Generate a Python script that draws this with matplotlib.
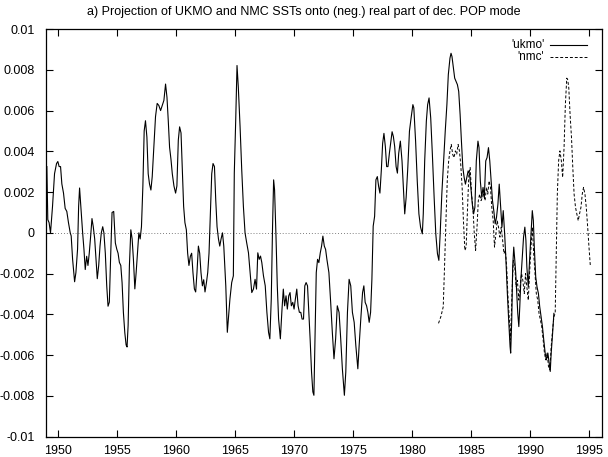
import numpy as np
import matplotlib
matplotlib.use("Agg")
import matplotlib.pyplot as plt
from matplotlib.ticker import FuncFormatter

plt.rcParams['font.family'] = ['Liberation Sans', 'DejaVu Sans']

# ---- data (values in units of 0.001) ----
ukmo_year = [
    1949.07, 1949.15, 1949.26, 1949.38, 1949.55, 1949.72, 1949.89, 1950.0, 1950.11, 1950.23,
    1950.34, 1950.48, 1950.62, 1950.76, 1950.9, 1951.05, 1951.13, 1951.25, 1951.42, 1951.53,
    1951.67, 1951.76, 1951.84, 1951.98, 1952.1, 1952.21, 1952.32, 1952.44, 1952.55, 1952.66,
    1952.78, 1952.89, 1953.0, 1953.12, 1953.23, 1953.34, 1953.46, 1953.57, 1953.68, 1953.8,
    1953.9, 1954.02, 1954.14, 1954.25, 1954.36, 1954.48, 1954.59, 1954.73, 1954.87, 1954.99,
    1955.1, 1955.21, 1955.33, 1955.44, 1955.55, 1955.67, 1955.78, 1955.86, 1955.95, 1956.06,
    1956.18, 1956.29, 1956.4, 1956.52, 1956.63, 1956.74, 1956.86, 1956.97, 1957.08, 1957.2,
    1957.31, 1957.42, 1957.54, 1957.65, 1957.76, 1957.88, 1957.99, 1958.1, 1958.27, 1958.41,
    1958.55, 1958.7, 1958.84, 1958.98, 1959.12, 1959.24, 1959.35, 1959.46, 1959.58, 1959.69,
    1959.83, 1959.97, 1960.08, 1960.2, 1960.31, 1960.43, 1960.54, 1960.65, 1960.76, 1960.88,
    1960.99, 1961.1, 1961.22, 1961.33, 1961.44, 1961.56, 1961.67, 1961.78, 1961.9, 1962.01,
    1962.12, 1962.24, 1962.35, 1962.46, 1962.58, 1962.69, 1962.8, 1962.92, 1963.03, 1963.14,
    1963.26, 1963.37, 1963.48, 1963.6, 1963.71, 1963.82, 1963.94, 1964.05, 1964.22, 1964.35,
    1964.57, 1964.72, 1964.86, 1964.94, 1965.06, 1965.17, 1965.28, 1965.43, 1965.57, 1965.71,
    1965.85, 1965.99, 1966.14, 1966.28, 1966.42, 1966.56, 1966.7, 1966.82, 1966.93, 1967.05,
    1967.16, 1967.27, 1967.41, 1967.56, 1967.7, 1967.84, 1967.95, 1968.07, 1968.18, 1968.27,
    1968.35, 1968.47, 1968.58, 1968.69, 1968.84, 1968.98, 1969.09, 1969.2, 1969.32, 1969.43,
    1969.55, 1969.66, 1969.77, 1969.89, 1970.0, 1970.11, 1970.23, 1970.34, 1970.45, 1970.57,
    1970.68, 1970.8, 1970.91, 1971.02, 1971.14, 1971.25, 1971.36, 1971.48, 1971.59, 1971.68,
    1971.76, 1971.88, 1971.99, 1972.1, 1972.22, 1972.33, 1972.44, 1972.56, 1972.67, 1972.78,
    1972.95, 1973.1, 1973.24, 1973.38, 1973.52, 1973.66, 1973.81, 1973.95, 1974.09, 1974.26,
    1974.38, 1974.52, 1974.66, 1974.8, 1974.94, 1975.09, 1975.23, 1975.4, 1975.51, 1975.65,
    1975.8, 1975.91, 1976.02, 1976.14, 1976.25, 1976.36, 1976.48, 1976.59, 1976.7, 1976.82,
    1976.93, 1977.05, 1977.16, 1977.27, 1977.39, 1977.5, 1977.61, 1977.73, 1977.84, 1977.95,
    1978.07, 1978.18, 1978.3, 1978.41, 1978.52, 1978.64, 1978.75, 1978.86, 1979.0, 1979.14,
    1979.29, 1979.37, 1979.49, 1979.63, 1979.77, 1979.91, 1980.06, 1980.14, 1980.29, 1980.43,
    1980.57, 1980.71, 1980.86, 1980.94, 1981.06, 1981.2, 1981.31, 1981.43, 1981.57, 1981.71,
    1981.86, 1982.0, 1982.14, 1982.26, 1982.37, 1982.51, 1982.66, 1982.8, 1982.94, 1983.06,
    1983.2, 1983.29, 1983.37, 1983.49, 1983.6, 1983.71, 1983.83, 1983.94, 1984.06, 1984.17,
    1984.29, 1984.4, 1984.51, 1984.63, 1984.74, 1984.86, 1984.97, 1985.09, 1985.2, 1985.31,
    1985.43, 1985.57, 1985.66, 1985.77, 1985.89, 1986.0, 1986.11, 1986.23, 1986.34, 1986.46,
    1986.57, 1986.69, 1986.8, 1986.91, 1987.03, 1987.14, 1987.26, 1987.37, 1987.49, 1987.6,
    1987.71, 1987.83, 1987.94, 1988.06, 1988.17, 1988.29, 1988.34, 1988.43, 1988.51, 1988.6,
    1988.69, 1988.77, 1988.86, 1988.94, 1989.03, 1989.11, 1989.2, 1989.31, 1989.43, 1989.54,
    1989.63, 1989.71, 1989.83, 1989.94, 1990.06, 1990.17, 1990.26, 1990.34, 1990.46, 1990.57,
    1990.69, 1990.8, 1990.91, 1991.03, 1991.14, 1991.26, 1991.37, 1991.49, 1991.6, 1991.69,
    1991.77, 1991.89, 1992.0,
]
ukmo_milli = [
    3.25, 0.65, 0.5, 0.0, 1.3, 2.9, 3.4, 3.5, 3.25, 3.25,
    2.4, 1.95, 1.2, 1.05, 0.5, 0.0, -0.15, -1.3, -2.4, -1.95,
    -0.8, 1.3, 2.2, 0.98, 0.0, -0.8, -1.8, -1.15, -1.6, -1.0,
    -0.15, 0.7, 0.3, -0.3, -1.3, -2.25, -1.6, -0.65, 0.0, 0.3,
    0.0, -1.0, -2.6, -3.6, -3.4, -1.0, 1.0, 1.05, -0.5, -0.8,
    -1.0, -1.45, -1.6, -2.45, -3.9, -4.9, -5.5, -5.6, -4.55, -1.6,
    0.15, -0.3, -1.3, -2.75, -1.95, -1.0, 0.0, -0.3, 0.3, 2.3,
    5.0, 5.5, 4.7, 2.9, 2.4, 2.1, 2.75, 3.9, 5.7, 6.35,
    6.25, 6.0, 6.25, 6.5, 7.3, 6.65, 5.5, 4.2, 3.6, 2.9,
    2.3, 1.95, 2.3, 4.55, 5.2, 4.9, 3.1, 1.3, 0.5, 0.15,
    -1.0, -1.6, -1.15, -1.0, -1.95, -2.75, -2.9, -1.95, -0.65, -1.0,
    -1.95, -2.6, -2.3, -2.9, -2.45, -1.95, -1.0, 1.0, 2.9, 3.4,
    3.25, 1.6, 0.3, -0.3, -0.65, -0.3, 0.0, -0.65, -2.6, -4.88,
    -3.25, -2.44, -2.11, 2.93, 5.53, 8.21, 7.15, 5.2, 3.09, 1.3,
    0.0, -0.49, -0.98, -1.95, -2.93, -2.76, -2.28, -2.76, -0.98, -1.3,
    -1.14, -1.46, -2.11, -2.6, -3.9, -4.88, -5.2, -3.25, 0.33, 2.6,
    2.11, -0.16, -2.6, -4.23, -5.2, -3.74, -2.76, -3.58, -3.09, -3.74,
    -3.09, -2.93, -3.58, -3.41, -3.74, -3.25, -2.76, -3.58, -3.9, -3.9,
    -4.23, -4.23, -2.6, -2.44, -2.6, -3.9, -5.2, -6.83, -7.8, -7.97,
    -5.53, -1.95, -1.3, -1.46, -0.98, -0.65, -0.16, -0.65, -0.81, -1.3,
    -1.95, -3.41, -4.88, -6.18, -5.2, -3.58, -3.9, -5.2, -6.67, -7.97,
    -6.83, -3.9, -2.28, -2.6, -3.9, -4.39, -5.53, -6.67, -5.53, -4.23,
    -2.93, -2.6, -3.41, -3.58, -3.9, -4.39, -3.9, -2.28, 0.33, 0.81,
    2.6, 2.76, 2.28, 1.95, 3.09, 4.39, 4.88, 4.23, 3.25, 3.25,
    3.9, 4.39, 4.96, 4.72, 4.23, 3.25, 2.93, 3.9, 4.5, 3.53,
    1.9, 0.93, 1.74, 3.2, 4.99, 5.64, 6.29, 6.13, 4.5, 2.55,
    0.93, 0.28, -0.05, 0.93, 3.53, 5.48, 6.29, 6.62, 5.64, 3.85,
    1.74, -0.05, -1.02, -1.35, -0.05, 1.9, 3.53, 4.99, 6.29, 7.76,
    8.57, 8.81, 8.65, 8.08, 7.59, 7.43, 7.27, 6.94, 5.8, 4.5,
    3.2, 2.72, 2.39, 2.72, 3.04, 2.88, 2.23, 1.41, 0.93, 1.25,
    3.53, 4.5, 4.18, 2.55, 1.74, 2.23, 1.74, 3.53, 3.69, 4.18,
    3.53, 2.55, 1.58, 1.09, 0.44, 0.76, 1.41, 2.39, 1.25, 0.28,
    1.09, -0.05, -1.35, -2.98, -4.28, -5.58, -5.9, -4.28, -1.67, -0.7,
    -1.35, -2.0, -2.98, -3.95, -4.6, -3.63, -2.33, -1.35, -0.21, 0.28,
    -0.37, -1.67, -2.65, -1.35, -0.05, 1.09, 0.6, -0.7, -2.16, -2.65,
    -2.98, -3.63, -4.11, -4.6, -5.25, -5.9, -6.23, -5.9, -6.39, -6.8,
    -5.9, -4.93, -3.95,
]

nmc_year = [
    1982.23, 1982.43, 1982.63, 1982.74, 1982.86, 1982.97, 1983.09, 1983.2, 1983.31, 1983.43,
    1983.54, 1983.66, 1983.77, 1983.89, 1984.0, 1984.11, 1984.23, 1984.34, 1984.46, 1984.57,
    1984.69, 1984.8, 1984.91, 1985.03, 1985.14, 1985.26, 1985.37, 1985.49, 1985.6, 1985.71,
    1985.83, 1985.94, 1986.06, 1986.17, 1986.29, 1986.4, 1986.51, 1986.63, 1986.74, 1986.86,
    1986.97, 1987.09, 1987.2, 1987.31, 1987.43, 1987.54, 1987.66, 1987.77, 1987.89, 1988.0,
    1988.11, 1988.23, 1988.31, 1988.4, 1988.49, 1988.57, 1988.69, 1988.8, 1988.91, 1989.03,
    1989.14, 1989.26, 1989.37, 1989.49, 1989.6, 1989.71, 1989.83, 1989.94, 1990.06, 1990.17,
    1990.29, 1990.4, 1990.51, 1990.63, 1990.74, 1990.86, 1990.97, 1991.09, 1991.2, 1991.31,
    1991.43, 1991.54, 1991.66, 1991.77, 1991.89, 1992.0, 1992.11, 1992.2, 1992.29, 1992.4,
    1992.51, 1992.63, 1992.74, 1992.86, 1992.97, 1993.09, 1993.17, 1993.26, 1993.37, 1993.49,
    1993.6, 1993.71, 1993.83, 1993.94, 1994.06, 1994.17, 1994.29, 1994.4, 1994.51, 1994.63,
    1994.74, 1994.86, 1994.97, 1995.09,
]
nmc_milli = [
    -4.44, -4.11, -3.63, -1.67, 0.6, 2.55, 3.53, 4.02, 4.34, 3.85,
    3.69, 4.02, 3.85, 4.34, 4.02, 3.37, 2.23, 0.6, -0.86, -0.7,
    1.25, 2.88, 3.2, 1.9, 1.25, -0.05, -0.86, 0.28, 1.58, 1.9,
    1.58, 1.74, 1.9, 1.58, 2.23, 1.9, 2.55, 2.23, 1.25, 0.6,
    -0.7, -0.05, 0.6, 0.28, -0.21, 0.28, -0.37, -1.02, -0.86, -1.67,
    -3.14, -4.28, -5.25, -3.95, -2.33, -1.35, -1.67, -2.65, -2.33, -3.3,
    -2.65, -2.0, -2.33, -2.98, -2.0, -2.65, -3.3, -2.0, -0.7, 0.28,
    -1.02, -2.0, -2.98, -3.3, -3.95, -4.28, -4.6, -5.25, -5.9, -6.23,
    -5.9, -6.55, -6.72, -5.58, -4.76, -4.11, -3.95, -1.02, 1.9, 3.53,
    4.02, 3.53, 2.72, 4.18, 6.29, 7.59, 7.51, 7.11, 5.8, 4.67,
    3.2, 1.9, 1.25, 0.93, 0.6, 0.93, 1.25, 1.9, 2.23, 1.9,
    1.25, 0.28, -0.7, -1.67,
]

title = "a) Projection of UKMO and NMC SSTs onto (neg.) real part of dec. POP mode"
series_labels = ["'ukmo'", "'nmc'"]
x_ticks = [1950, 1955, 1960, 1965, 1970, 1975, 1980, 1985, 1990, 1995]
y_ticks = [-0.01, -0.008, -0.006, -0.004, -0.002, 0, 0.002, 0.004, 0.006, 0.008, 0.01]

fig = plt.figure(figsize=(6.08, 4.57), dpi=100)
ax = fig.add_axes([0.0757, 0.0445, 0.914, 0.892])

ax.axhline(0, color='#555555', lw=0.6, ls=(0, (1, 2.5)), zorder=1)
ax.plot(ukmo_year, np.array(ukmo_milli) * 1e-3, color='black', lw=0.8, zorder=3)
ax.plot(nmc_year, np.array(nmc_milli) * 1e-3, color='black', lw=0.7,
        ls=(0, (3, 2)), zorder=3)

ax.set_xlim(1949.0, 1996.05)
ax.set_ylim(-0.01, 0.01)
ax.set_xticks(x_ticks)
ax.set_yticks(y_ticks)
ax.yaxis.set_major_formatter(FuncFormatter(lambda v, p: "0" if abs(v) < 1e-12 else ("%g" % round(v, 4))))
ax.tick_params(direction='in', length=5, width=0.8, top=True, right=True, labelsize=9)
ax.tick_params(axis='y', pad=8)
ax.tick_params(axis='x', pad=6)
for s in ax.spines.values():
    s.set_linewidth(0.9)

# gnuplot centres the title on the whole canvas
fig.text(0.5, 0.973, title, ha='center', va='center', fontsize=9)

# legend, gnuplot style: text right-aligned, sample on the right
ax.text(0.897, 0.962, series_labels[0], transform=ax.transAxes, ha='right', va='center', fontsize=8.5)
ax.text(0.897, 0.932, series_labels[1], transform=ax.transAxes, ha='right', va='center', fontsize=8.5)
ax.plot([0.907, 0.974], [0.962, 0.962], transform=ax.transAxes, color='black', lw=0.8)
ax.plot([0.907, 0.974], [0.932, 0.932], transform=ax.transAxes, color='black', lw=0.7, ls=(0, (3, 2)))

fig.savefig("out.png", dpi=100)
